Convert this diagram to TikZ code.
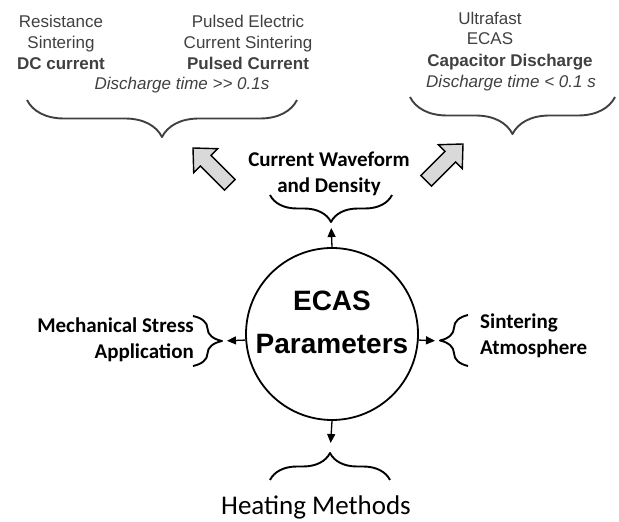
\documentclass[tikz,border=0pt]{standalone}
\usepackage{fontspec}
\setmainfont{Liberation Sans}
\newfontfamily\calibri{Carlito}
\usetikzlibrary{arrows.meta,decorations.pathreplacing}

\begin{document}
\begin{tikzpicture}[
                x=1pt,y=1pt,
                br/.style={decorate,decoration={brace,amplitude=#1},line width=1.9pt,line join=round},
                link/.style={-{Triangle[length=9pt,width=8pt]},line width=1.3pt},
                lbl/.style={font=\calibri\fontsize{21}{25.6}\selectfont\bfseries,inner sep=0pt},
                old/.style={text=black!75,font=\fontsize{17}{20.8}\selectfont,align=center,inner sep=0pt},
                blk/.pic={\draw[fill=gray!30,line width=1.4pt,line join=miter] (0,0) -- (-18,17) -- (-18,7.5) -- (-52,7.5) -- (-52,-7.5) -- (-18,-7.5) -- (-18,-17) -- cycle;}
            ]
                \useasboundingbox (0,0) rectangle (619,522);
                % centre
                \node [circle,draw,line width=1.8pt,minimum size=172pt,inner sep=0pt] (c) at (332,188) {};
                \node [font=\fontsize{28}{43}\selectfont\bfseries,align=center] (ct) at (332,200) {ECAS\\Parameters};
                % brace tips
                \coordinate (wave) at (331,300);
                \coordinate (mech) at (222,181);
                \coordinate (atm) at (440,181);
                \coordinate (heat) at (330,69);
                \draw [br=27] (392,327) -- (270,327);
                \draw [br=29] (193,206) -- (193,156);
                \draw [br=28] (468,156) -- (468,207);
                \draw [br=27] (270,42) -- (390,42);
                \foreach \ang/\tip/\gap in {90/wave/6,184.7/mech/5,-4.7/atm/5,-90/heat/10} {
                    \draw [link,shorten >=\gap pt] (c.\ang) -- (\tip);
                }
                % labels
                \node [lbl,align=center] (wl) at (329,348) {Current Waveform\\and Density};
                \node [lbl,align=right,anchor=east] (ml) at (194,182) {Mechanical Stress\\Application};
                \node [lbl,align=left,anchor=west] (al) at (480,186) {Sintering\\Atmosphere};
                \node [font=\calibri\fontsize{27}{32}\selectfont] (hl) at (316,15) {Heating Methods};
                % current modes
                \pic [rotate=135] at (193,374) {blk};
                \pic [rotate=45] at (463,378) {blk};
                \node [old] (rs) at (61,479.5) {Resistance\\Sintering\\\textbf{DC current}};
                \node [old] (pe) at (248,479.5) {Pulsed Electric\\Current Sintering\\\textbf{Pulsed Current}};
                \node [old] (dl) at (182,437) {\textit{Discharge time >{}> 0.1s}};
                \node [old] (uf) at (490,493.5) {Ultrafast\\ECAS};
                \node [old] (cd) at (510,460) {\textbf{Capacitor Discharge}};
                \node [old] (dr) at (511,439) {\textit{Discharge time < 0.1 s}};
                \draw [br=37,black!75] (297,422) -- (27,422);
                \draw [br=37,black!75] (615,425) -- (410,425);
            \end{tikzpicture}
\end{document}
